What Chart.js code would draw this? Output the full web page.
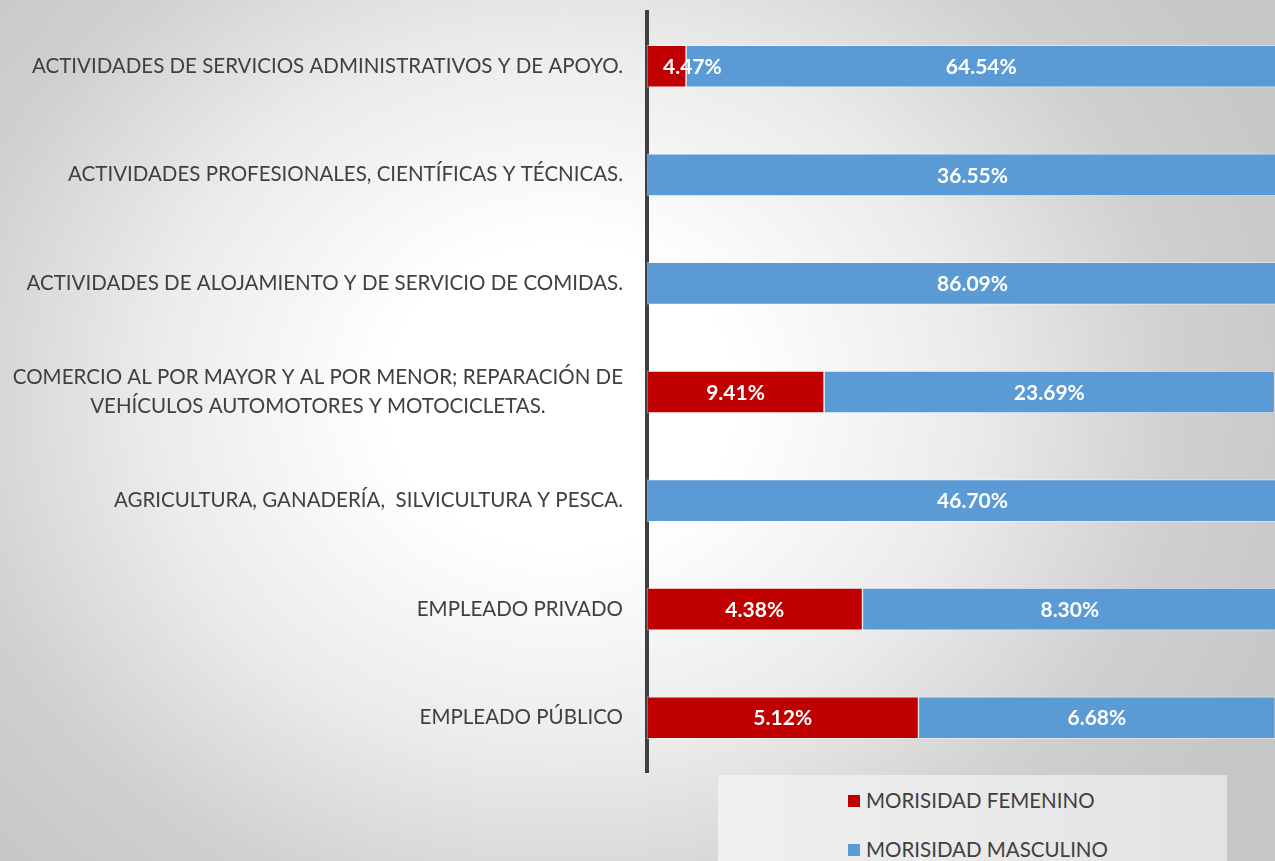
<!DOCTYPE html>
<html>
<head>
    <title>Morisidad por actividad</title>
    <meta charset="utf-8" />
    <script src="https://cdn.jsdelivr.net/npm/chart.js@4.4.0/dist/chart.umd.min.js"></script>
    <style>
        html, body {
            margin: 0;
            padding: 0;
            width: 1275px;
            height: 861px;
            overflow: hidden;
        }
        body {
            background: radial-gradient(ellipse 62% 80% at 44% 46%, #ffffff 0%, #ffffff 22%, #ebebeb 52%, #d0d0d0 78%, #c6c6c6 100%);
            font-family: Lato, sans-serif;
        }
        #wrap {
            position: absolute;
            left: 0;
            top: 0;
            width: 1300px;
            height: 861px;
        }
        #legend {
            position: absolute;
            left: 718px;
            top: 775px;
            width: 509px;
            height: 90px;
            background: linear-gradient(to right, #f0f0f0, #e3e3e3);
        }
        .item {
            position: absolute;
            left: 130px;
            font-size: 20.5px;
            color: #404040;
            white-space: nowrap;
            line-height: 24px;
        }
        .item span.box {
            display: inline-block;
            width: 12px;
            height: 12px;
            margin-right: 6px;
            vertical-align: 1px;
        }
    </style>
</head>
<body>
    <div id="wrap"><canvas id="chart"></canvas></div>
    <div id="legend"></div>

    <script>
        // categories (top to bottom)
        const categories = [
            'ACTIVIDADES DE SERVICIOS ADMINISTRATIVOS Y DE APOYO.',
            'ACTIVIDADES PROFESIONALES, CIENTÍFICAS Y TÉCNICAS.',
            'ACTIVIDADES DE ALOJAMIENTO Y DE SERVICIO DE COMIDAS.',
            ['COMERCIO AL POR MAYOR Y AL POR MENOR; REPARACIÓN DE', 'VEHÍCULOS AUTOMOTORES Y MOTOCICLETAS.'],
            'AGRICULTURA, GANADERÍA,  SILVICULTURA Y PESCA.',
            'EMPLEADO PRIVADO',
            'EMPLEADO PÚBLICO'
        ];
        const seriesNames = ['MORISIDAD FEMENINO', 'MORISIDAD MASCULINO'];

        // percentages printed on the bars
        const femLabels = ['4.47%', null, null, '9.41%', null, '4.38%', '5.12%'];
        const mascLabels = ['64.54%', '36.55%', '86.09%', '23.69%', '46.70%', '8.30%', '6.68%'];

        // segment lengths as measured on the picture (share of the bar width)
        const femLength = [6.0, 0, 0, 27.2, 0, 33.1, 41.7];
        const mascLength = [90.7, 100, 100, 69.2, 100, 63.7, 54.8];

        const colors = ['#C00000', '#5B9BD5'];
        const textColor = '#404040';

        // bar labels, centred on the visible part of each segment
        const barLabels = {
            id: 'barLabels',
            afterDatasetsDraw(chart) {
                const ctx = chart.ctx;
                const area = chart.chartArea;
                const texts = [femLabels, mascLabels];
                ctx.save();
                ctx.font = 'bold 21px Lato';
                ctx.fillStyle = '#ffffff';
                ctx.textBaseline = 'middle';
                chart.data.datasets.forEach(function (ds, d) {
                    chart.getDatasetMeta(d).data.forEach(function (bar, i) {
                        const txt = texts[d][i];
                        if (!txt) return;
                        const left = bar.base;
                        const right = Math.min(bar.x, area.right);
                        const w = ctx.measureText(txt).width;
                        if (w > right - left) {
                            ctx.textAlign = 'left';
                            ctx.fillText(txt, left + 16, bar.y + 1);
                        } else {
                            ctx.textAlign = 'center';
                            ctx.fillText(txt, (left + right) / 2, bar.y + 1);
                        }
                    });
                });
                ctx.restore();
            }
        };

        // category labels: block right-aligned, lines centred inside the block
        const catLabels = {
            id: 'catLabels',
            afterDraw(chart) {
                const ctx = chart.ctx;
                const y = chart.scales.y;
                ctx.save();
                ctx.font = '20.5px Lato';
                ctx.fillStyle = textColor;
                ctx.textAlign = 'center';
                ctx.textBaseline = 'middle';
                chart.data.labels.forEach(function (lab, i) {
                    const lines = Array.isArray(lab) ? lab : [lab];
                    const maxW = Math.max.apply(null, lines.map(function (l) { return ctx.measureText(l).width; }));
                    const cx = 623 - maxW / 2;
                    const cy = y.getPixelForValue(i);
                    lines.forEach(function (l, k) {
                        ctx.fillText(l, cx, cy + (k - (lines.length - 1) / 2) * 29);
                    });
                });
                ctx.restore();
            }
        };

        const chart = new Chart(document.getElementById('chart'), {
            type: 'bar',
            data: {
                labels: categories,
                datasets: [
                    {
                        label: seriesNames[0],
                        data: femLength,
                        backgroundColor: colors[0],
                        borderColor: 'rgba(255,255,255,0.45)',
                        borderWidth: 1,
                        borderSkipped: false,
                        barThickness: 42
                    },
                    {
                        label: seriesNames[1],
                        data: mascLength,
                        backgroundColor: colors[1],
                        borderColor: 'rgba(255,255,255,0.45)',
                        borderWidth: 1,
                        borderSkipped: false,
                        barThickness: 42
                    }
                ]
            },
            options: {
                indexAxis: 'y',
                responsive: true,
                maintainAspectRatio: false,
                animation: false,
                layout: { padding: { left: 647, right: 2, top: 12, bottom: 89 } },
                scales: {
                    x: { stacked: true, min: 0, max: 100, display: false },
                    y: {
                        stacked: true,
                        z: 1,
                        grid: { display: false, drawTicks: false },
                        ticks: { display: false },
                        border: { display: true, color: '#404040', width: 4 }
                    }
                },
                plugins: {
                    legend: { display: false },
                    tooltip: { enabled: false }
                }
            },
            plugins: [barLabels, catLabels]
        });

        // legend built from the chart's datasets
        const legendEl = document.getElementById('legend');
        chart.data.datasets.forEach(function (ds, i) {
            const item = document.createElement('div');
            item.className = 'item';
            item.style.top = (13 + i * 49) + 'px';
            item.innerHTML = '<span class="box" style="background:' + ds.backgroundColor + '"></span>' + ds.label;
            legendEl.appendChild(item);
        });
    </script>
</body>
</html>
